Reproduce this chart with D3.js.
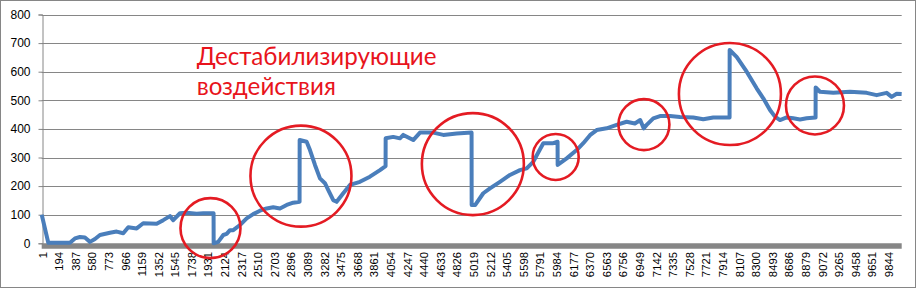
<!DOCTYPE html>
<html>
<head>
<meta charset="utf-8">
<script src="https://cdn.jsdelivr.net/npm/d3@7"></script>
<style>
  body { margin: 0; background: #fff; }
  svg { display: block; }
</style>
</head>
<body>
<svg id="chart"></svg>
<script>
// values (sample index, value)
var N = 10000;
var idx = [1, 77, 329, 387, 445, 503, 562, 620, 678, 794, 872, 949, 1007, 1105, 1181, 1337, 1414, 1492, 1530,
  1608, 1686, 1802, 1879, 1999, 2000, 2053, 2112, 2151, 2190, 2228, 2306, 2384, 2460, 2538, 2616, 2693, 2771,
  2849, 2926, 2999, 3000, 3081, 3120, 3178, 3236, 3294, 3333, 3391, 3430, 3507, 3585, 3701, 3817, 3934, 3999,
  4000, 4088, 4166, 4205, 4321, 4399, 4553, 4670, 4826, 4999, 5000, 5042, 5135, 5213, 5329, 5445, 5562, 5640,
  5716, 5833, 5949, 5999, 6000, 6105, 6221, 6298, 6376, 6454, 6570, 6686, 6802, 6898, 6960, 7000, 7035, 7112,
  7190, 7306, 7422, 7577, 7693, 7809, 7999, 8000, 8081, 8198, 8314, 8391, 8469, 8527, 8585, 8663, 8740, 8818,
  8895, 8999, 9000, 9050, 9205, 9399, 9593, 9709, 9826, 9884, 9942, 10000];
var vals = [100, 2, 2, 17, 22, 20, 5, 15, 29, 37, 41, 35, 56, 52, 70, 68, 81, 95, 81,
  105, 107, 103, 105, 105, 0, 5, 29, 33, 46, 46, 64, 87, 102, 114, 122, 126, 122,
  134, 142, 145, 361, 355, 326, 274, 227, 210, 186, 151, 145, 175, 204, 215, 233, 256, 270,
  367, 372, 367, 379, 361, 387, 387, 379, 384, 387, 134, 134, 175, 192, 215, 239, 256, 262,
  285, 350, 350, 355, 274, 297, 326, 350, 378, 396, 402, 414, 425, 419, 431, 402, 414, 437,
  445, 445, 442, 440, 434, 440, 440, 676, 652, 600, 542, 507, 466, 443, 431, 440, 437, 433,
  437, 440, 545, 530, 526, 530, 526, 518, 526, 512, 523, 522];

var yTicks = [0, 100, 200, 300, 400, 500, 600, 700, 800];
var xTicks = d3.range(1, N + 1, 193); // 1, 194, ... 9844

// annotation circles: centre (index, value), radius in px
var circleIdx = [1963, 3015, 5014, 5977, 7003, 8003, 8992];
var circleVal = [53, 235, 277, 302, 415, 522, 482];
var circleR = [30, 50.5, 51, 23, 25.5, 51, 29];

var noteLines = ["Дестабилизирующие", "воздействия"];

var width = 917, height = 289;
var plot = {left: 41.7, right: 901.7, top: 14.5, bottom: 243.3};

var svg = d3.select("#chart").attr("width", width).attr("height", height);

// chart border
svg.append("rect")
  .attr("x", 0.5).attr("y", 0.5)
  .attr("width", width - 2).attr("height", height - 2)
  .attr("fill", "#fff").attr("stroke", "#868686");

var x = d3.scaleLinear().domain([0.5, N + 0.5]).range([plot.left, plot.right]);
var y = d3.scaleLinear().domain([0, 800]).range([plot.bottom, plot.top]);

// gridlines
svg.append("g")
  .selectAll("line")
  .data(yTicks.filter(function(d) { return d > 0; }))
  .enter().append("line")
  .attr("x1", plot.left).attr("x2", plot.right)
  .attr("y1", function(d) { return Math.round(y(d)) + 0.5; })
  .attr("y2", function(d) { return Math.round(y(d)) + 0.5; })
  .attr("stroke", "#868686").attr("stroke-width", 1);

// y axis
var yAxis = d3.axisLeft(y).tickValues(yTicks).tickSize(4).tickPadding(8);
var yg = svg.append("g")
  .attr("transform", "translate(" + (Math.round(plot.left) + 0.5) + ",0)")
  .call(yAxis);
yg.select(".domain").attr("stroke", "#868686");
yg.selectAll(".tick line").attr("stroke", "#868686");
yg.selectAll(".tick text")
  .attr("fill", "#000")
  .style("font-family", "'Liberation Sans', Arial, sans-serif")
  .style("font-size", "12px");

// x axis (thick grey bar at zero)
svg.append("line")
  .attr("x1", plot.left).attr("x2", plot.right)
  .attr("y1", y(0) + 2.7).attr("y2", y(0) + 2.7)
  .attr("stroke", "#868686").attr("stroke-width", 5.4);

svg.append("g")
  .selectAll("text")
  .data(xTicks)
  .enter().append("text")
  .attr("transform", function(d) { return "translate(" + (x(d) + 0.8) + "," + 252 + ") rotate(-90)"; })
  .attr("dy", "0.35em")
  .style("text-anchor", "end")
  .style("font-family", "'Liberation Sans', Arial, sans-serif")
  .style("font-size", "11.3px")
  .attr("fill", "#000")
  .text(function(d) { return d; });

// series
var series = idx.map(function(d, i) { return {i: d, v: vals[i]}; });
var line = d3.line()
  .x(function(d) { return x(d.i); })
  .y(function(d) { return y(d.v); });

svg.append("path")
  .datum(series)
  .attr("fill", "none")
  .attr("stroke", "#4a7ebb")
  .attr("stroke-width", 4)
  .attr("stroke-linejoin", "round")
  .attr("d", line);

// red circles
svg.append("g")
  .selectAll("circle")
  .data(circleIdx)
  .enter().append("circle")
  .attr("cx", function(d) { return x(d); })
  .attr("cy", function(d, i) { return y(circleVal[i]); })
  .attr("r", function(d, i) { return circleR[i]; })
  .attr("fill", "none")
  .attr("stroke", "#e41b23")
  .attr("stroke-width", 2.6);

// note text
var note = svg.append("g");
note.selectAll("text")
  .data(noteLines)
  .enter().append("text")
  .attr("x", x(1802))
  .attr("y", function(d, i) { return y(625) + i * 30; })
  .attr("fill", "#e8141c")
  .style("font-family", "Lato, 'Open Sans', sans-serif")
  .style("font-size", "24px")
  .text(function(d) { return d; });

// fit first line to the width seen in the picture
var w0 = note.select("text").node().getComputedTextLength();
note.selectAll("text").style("font-size", (24 * 240 / w0) + "px");
</script>
</body>
</html>
